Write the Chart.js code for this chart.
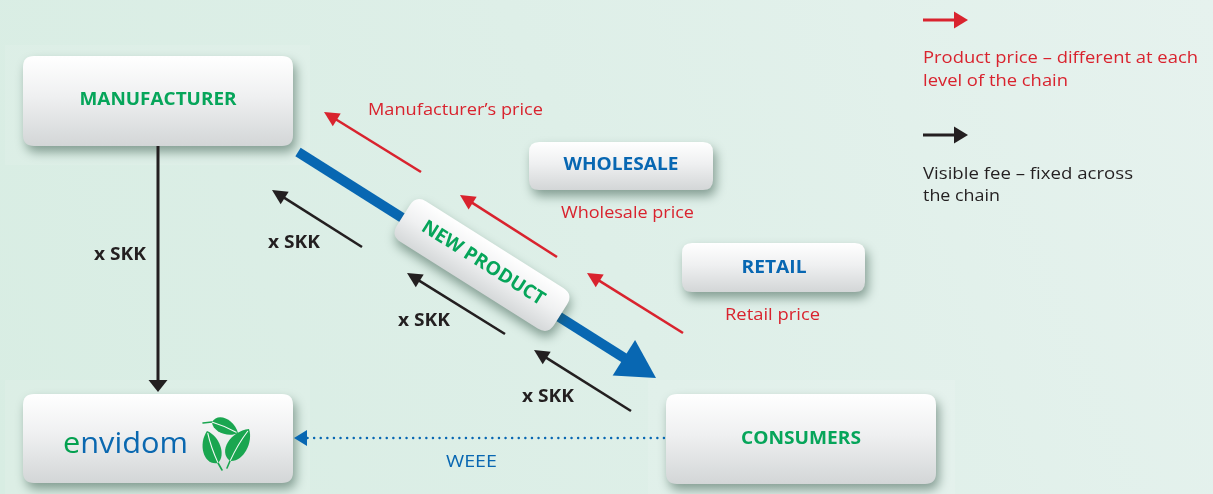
<!DOCTYPE html>
<html><head><meta charset="utf-8">
<script src="https://cdn.jsdelivr.net/npm/chart.js@4/dist/chart.umd.min.js"></script>
<style>html,body{margin:0;padding:0;background:#dfefe8;}canvas{display:block;}</style>
</head><body>
<canvas id="c" width="1213" height="494"></canvas>
<script>
// ---- content (diagram units = the chart's x/y scales) ----
const categories = ['MANUFACTURER', 'WHOLESALE', 'RETAIL', 'CONSUMERS'];
const productLabel = 'NEW PRODUCT';
const priceLabels = ['Manufacturer’s price', 'Wholesale price', 'Retail price'];
const feeLabels = ['x SKK', 'x SKK', 'x SKK', 'x SKK'];
const returnLabel = 'WEEE';
const brandParts = ['e', 'nvidom'];
const legendPrice = ['Product price – different at each', 'level of the chain'];
const legendFee = ['Visible fee – fixed across', 'the chain'];

// node boxes: [left, top, right, bottom]
const nodeBoxes = [[23, 56, 293, 146], [529, 142, 713, 190], [682, 243, 865, 292], [666, 394, 936, 484]];
const brandBox = [23, 394, 293, 483];
// price arrows (tail -> tip)
const priceArrows = [[[421, 172], [324, 112]], [[557, 257], [460, 195]], [[683, 333], [587, 273]]];
// fee arrows (tail -> tip); first one is the vertical manufacturer -> envidom
const feeArrows = [[[158, 146], [158, 392]], [[362, 247], [272, 190]], [[505, 334], [407, 273]], [[631, 411], [534, 350]]];
const flowArrow = [[298, 152], [656, 378]];
const returnArrow = [[664, 438], [294, 438]];
// logo leaves: [stem end, leaf base, leaf tip]
const leaves = [[[203, 423], [212, 422], [238, 433]], [[222, 470], [218, 463], [207, 431]], [[227, 468], [230, 461], [249, 429]]];

const RED = '#d9232e', BLUE = '#0867b2', GREEN = '#06a55a', INK = '#231f20';
const FONT = '"Open Sans", "Noto Sans", sans-serif';

function shorten(a, b, d) {
  const dx = b[0] - a[0], dy = b[1] - a[1], L = Math.hypot(dx, dy);
  return [b[0] - dx / L * d, b[1] - dy / L * d];
}
function seg(a, b, color, width, extra) {
  return Object.assign({
    type: 'line', data: [{x: a[0], y: a[1]}, {x: b[0], y: b[1]}], showLine: true,
    borderColor: color, borderWidth: width, pointRadius: 0, pointHoverRadius: 0,
    borderCapStyle: 'butt', fill: false, tension: 0
  }, extra || {});
}
const datasets = [];
priceArrows.forEach(a => datasets.push(seg(a[0], shorten(a[0], a[1], 10), RED, 2.6)));
feeArrows.forEach((a, i) => datasets.push(seg(a[0], shorten(a[0], a[1], 10), INK, i === 0 ? 3 : 2.6)));
datasets.push(seg(flowArrow[0], shorten(flowArrow[0], flowArrow[1], 30), BLUE, 10));
datasets.push(seg(returnArrow[0], shorten(returnArrow[0], returnArrow[1], 12), BLUE, 2.4, {borderDash: [0.1, 6.5], borderCapStyle: 'round'}));
datasets.push(seg([923, 20], [958, 20], RED, 3));
datasets.push(seg([923, 135], [958, 135], INK, 3));

function px(chart, p) { return [chart.scales.x.getPixelForValue(p[0]), chart.scales.y.getPixelForValue(p[1])]; }
function rr(ctx, x, y, w, h, r) {
  ctx.beginPath();
  ctx.moveTo(x + r, y); ctx.lineTo(x + w - r, y); ctx.quadraticCurveTo(x + w, y, x + w, y + r);
  ctx.lineTo(x + w, y + h - r); ctx.quadraticCurveTo(x + w, y + h, x + w - r, y + h);
  ctx.lineTo(x + r, y + h); ctx.quadraticCurveTo(x, y + h, x, y + h - r);
  ctx.lineTo(x, y + r); ctx.quadraticCurveTo(x, y, x + r, y); ctx.closePath();
}
function boxFill(ctx, y, h) {
  const g = ctx.createLinearGradient(0, y, 0, y + h);
  g.addColorStop(0, '#ffffff'); g.addColorStop(0.45, '#eff0f1'); g.addColorStop(1, '#d3d6d7');
  return g;
}
function drawBox(ctx, x0, y0, x1, y1, r) {
  ctx.save();
  ctx.shadowColor = 'rgba(40,75,60,0.5)'; ctx.shadowBlur = 11; ctx.shadowOffsetX = 3; ctx.shadowOffsetY = 6;
  rr(ctx, x0, y0, x1 - x0, y1 - y0, r);
  ctx.fillStyle = boxFill(ctx, y0, y1 - y0); ctx.fill();
  ctx.restore();
}
function fitText(ctx, s, x, y, font, color, w, align) {
  ctx.save();
  ctx.font = font; ctx.fillStyle = color; ctx.textBaseline = 'middle'; ctx.textAlign = 'left';
  const m = ctx.measureText(s).width, sx = w / m;
  ctx.translate(align === 'center' ? x - w / 2 : x, y); ctx.scale(sx, 1);
  ctx.fillText(s, 0, 0);
  ctx.restore();
}
function head(ctx, tail, tip, len, wid, color) {
  const dx = tip[0] - tail[0], dy = tip[1] - tail[1], L = Math.hypot(dx, dy), ux = dx / L, uy = dy / L;
  const bx = tip[0] - ux * len, by = tip[1] - uy * len;
  ctx.beginPath(); ctx.moveTo(tip[0], tip[1]);
  ctx.lineTo(bx - uy * wid / 2, by + ux * wid / 2);
  ctx.lineTo(bx + uy * wid / 2, by - ux * wid / 2);
  ctx.closePath(); ctx.fillStyle = color; ctx.fill();
}
function leaf(ctx, stem, base, tip) {
  const LG = '#1aa650';
  ctx.save();
  ctx.strokeStyle = LG; ctx.lineWidth = 1.6; ctx.lineCap = 'round';
  ctx.beginPath(); ctx.moveTo(stem[0], stem[1]); ctx.lineTo(base[0], base[1]); ctx.stroke();
  const len = Math.hypot(tip[0] - base[0], tip[1] - base[1]);
  const ang = Math.atan2(tip[1] - base[1], tip[0] - base[0]);
  ctx.translate(base[0], base[1]); ctx.rotate(ang);
  const w = len * 0.42;
  ctx.beginPath(); ctx.moveTo(0, 0);
  ctx.bezierCurveTo(len * 0.05, -w, len * 0.7, -w * 0.95, len, 0);
  ctx.bezierCurveTo(len * 0.75, w * 0.7, len * 0.15, w * 0.75, 0, 0);
  ctx.fillStyle = LG; ctx.fill();
  ctx.strokeStyle = 'rgba(255,255,255,0.95)'; ctx.lineWidth = 1.1;
  ctx.beginPath(); ctx.moveTo(len * 0.02, 0); ctx.quadraticCurveTo(len * 0.5, -w * 0.12, len * 0.93, 0); ctx.stroke();
  ctx.restore();
}

const diagram = {
  id: 'diagram',
  beforeDatasetsDraw(chart) {
    const ctx = chart.ctx, W = chart.width, H = chart.height;
    const bg = ctx.createLinearGradient(0, H, W, 0);
    bg.addColorStop(0, '#d8ede3'); bg.addColorStop(0.5, '#deefe8'); bg.addColorStop(1, '#e6f2ee');
    ctx.fillStyle = bg; ctx.fillRect(0, 0, W, H);
    // faint halos
    ctx.fillStyle = 'rgba(255,255,255,0.10)';
    [[5, 45, 310, 165], [5, 380, 310, 494], [648, 380, 955, 494]].forEach(b => {
      const a = px(chart, [b[0], b[1]]), c = px(chart, [b[2], b[3]]);
      ctx.fillRect(a[0], a[1], c[0] - a[0], c[1] - a[1]);
    });
    nodeBoxes.concat([brandBox]).forEach((b, i) => {
      const a = px(chart, [b[0], b[1]]), c = px(chart, [b[2], b[3]]);
      drawBox(ctx, a[0], a[1], c[0], c[1], (i === 1 || i === 2) ? 10 : 11);
    });
  },
  afterDatasetsDraw(chart) {
    const ctx = chart.ctx;
    priceArrows.forEach(a => head(ctx, px(chart, a[0]), px(chart, a[1]), 15, 15, RED));
    feeArrows.forEach((a, i) => head(ctx, px(chart, a[0]), px(chart, a[1]), i === 0 ? 12 : 15, i === 0 ? 19 : 15, INK));
    head(ctx, px(chart, flowArrow[0]), px(chart, flowArrow[1]), 38, 42, BLUE);
    head(ctx, px(chart, returnArrow[0]), px(chart, returnArrow[1]), 13, 16, BLUE);
    head(ctx, px(chart, [923, 20]), px(chart, [968, 20]), 14, 17, RED);
    head(ctx, px(chart, [923, 135]), px(chart, [968, 135]), 14, 17, INK);

    // new product box on the flow line
    const f0 = px(chart, flowArrow[0]), f1 = px(chart, flowArrow[1]);
    const ang = Math.atan2(f1[1] - f0[1], f1[0] - f0[0]);
    const c = px(chart, [482, 265]);
    ctx.save(); ctx.translate(c[0], c[1]); ctx.rotate(ang);
    ctx.shadowColor = 'rgba(40,75,60,0.5)'; ctx.shadowBlur = 11; ctx.shadowOffsetX = 1; ctx.shadowOffsetY = 6;
    rr(ctx, -93, -24, 186, 48, 12);
    const g = ctx.createLinearGradient(0, -24, 0, 24);
    g.addColorStop(0, '#ffffff'); g.addColorStop(0.5, '#eff0f1'); g.addColorStop(1, '#d5d8d9');
    ctx.fillStyle = g; ctx.fill();
    ctx.shadowColor = 'transparent';
    fitText(ctx, productLabel, 0, -2, 'bold 19px ' + FONT, GREEN, 142, 'center');
    ctx.restore();

    // node labels
    const lbl = [[158, 100, 157], [621, 165, 115], [774, 268, 65], [801, 439, 120]];
    categories.forEach((s, i) => {
      const p = px(chart, [lbl[i][0], lbl[i][1]]);
      fitText(ctx, s, p[0], p[1], 'bold 17px ' + FONT, (i === 0 || i === 3) ? GREEN : BLUE, lbl[i][2], 'center');
    });
    // price labels
    const pl = [[368, 110, 175], [561, 213, 133], [725, 315, 95]];
    priceLabels.forEach((s, i) => { const p = px(chart, [pl[i][0], pl[i][1]]); fitText(ctx, s, p[0], p[1], '17px ' + FONT, RED, pl[i][2]); });
    // fee labels
    const fl = [[94, 255], [268, 243], [398, 321], [522, 397]];
    feeLabels.forEach((s, i) => { const p = px(chart, fl[i]); fitText(ctx, s, p[0], p[1], 'bold 17px ' + FONT, INK, 52); });
    // WEEE
    let p = px(chart, [446, 462]); fitText(ctx, returnLabel, p[0], p[1], '16px ' + FONT, BLUE, 51);
    // legend
    p = px(chart, [923, 58]); fitText(ctx, legendPrice[0], p[0], p[1], '17px ' + FONT, RED, 275);
    p = px(chart, [923, 81]); fitText(ctx, legendPrice[1], p[0], p[1], '17px ' + FONT, RED, 145);
    p = px(chart, [923, 174]); fitText(ctx, legendFee[0], p[0], p[1], '17px ' + FONT, INK, 210);
    p = px(chart, [923, 196]); fitText(ctx, legendFee[1], p[0], p[1], '17px ' + FONT, INK, 77);
    // brand
    ctx.save();
    ctx.font = '29px ' + FONT; ctx.textBaseline = 'alphabetic';
    p = px(chart, [63, 453]);
    const we = ctx.measureText(brandParts[0]).width, wr = ctx.measureText(brandParts[1]).width;
    const sx = 125 / (we + wr);
    ctx.translate(p[0], p[1]); ctx.scale(sx, 1);
    ctx.fillStyle = '#03a04f'; ctx.fillText(brandParts[0], 0, 0);
    ctx.fillStyle = '#0a68b0'; ctx.fillText(brandParts[1], we, 0);
    ctx.restore();
    leaves.forEach(l => leaf(ctx, px(chart, l[0]), px(chart, l[1]), px(chart, l[2])));
  }
};

new Chart(document.getElementById('c'), {
  type: 'scatter',
  data: { datasets: datasets },
  options: {
    responsive: false, animation: false, devicePixelRatio: 1,
    layout: { padding: 0 },
    plugins: { legend: { display: false }, tooltip: { enabled: false }, title: { display: false } },
    events: [],
    scales: {
      x: { type: 'linear', min: 0, max: 1213, display: false },
      y: { type: 'linear', min: 0, max: 494, reverse: true, display: false }
    }
  },
  plugins: [diagram]
});
</script>
</body></html>
